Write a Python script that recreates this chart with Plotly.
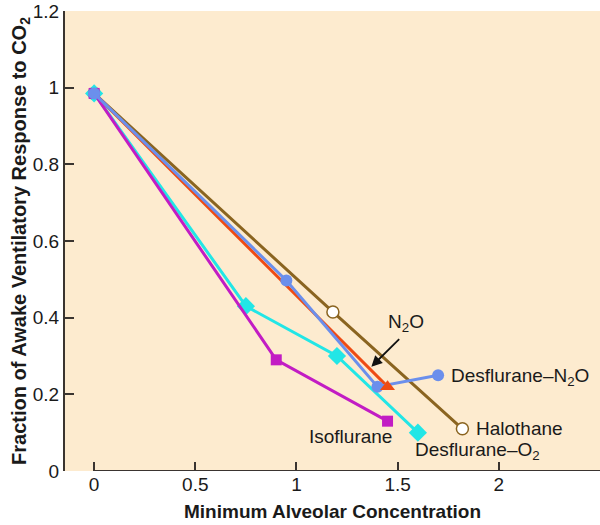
import plotly.graph_objects as go

# Data (Minimum Alveolar Concentration vs fraction of awake ventilatory response)
halothane_x = [0, 1.18, 1.82]
halothane_y = [0.985, 0.415, 0.11]

n2o_x = [0, 1.45]
n2o_y = [0.985, 0.22]

desO2_x = [0, 0.75, 1.2, 1.6]
desO2_y = [0.985, 0.43, 0.30, 0.10]

iso_x = [0, 0.9, 1.45]
iso_y = [0.985, 0.29, 0.13]

desN2O_x = [0, 0.95, 1.4, 1.7]
desN2O_y = [0.985, 0.497, 0.22, 0.25]

x_ticks = [0, 0.5, 1, 1.5, 2]
x_tick_labels = ["0", "0.5", "1", "1.5", "2"]
y_ticks = [0, 0.2, 0.4, 0.6, 0.8, 1.0, 1.2]
y_tick_labels = ["0", "0.2", "0.4", "0.6", "0.8", "1", "1.2"]

BROWN = "#8a6420"
RED = "#ee4b14"
CYAN = "#22e6e6"
MAGENTA = "#c21cc4"
BLUE = "#6b8fec"
AXIS = "#3a3430"
FONT = "Liberation Sans, Arial, Helvetica, sans-serif"

fig = go.Figure()

fig.add_trace(go.Scatter(x=halothane_x, y=halothane_y, mode="lines+markers",
                         line=dict(color=BROWN, width=3),
                         marker=dict(symbol="circle", size=12, color="white",
                                     line=dict(color=BROWN, width=1.5)),
                         showlegend=False))
fig.add_trace(go.Scatter(x=n2o_x, y=n2o_y, mode="lines",
                         line=dict(color=RED, width=3), showlegend=False))
fig.add_trace(go.Scatter(x=desO2_x, y=desO2_y, mode="lines+markers",
                         line=dict(color=CYAN, width=3),
                         marker=dict(symbol="diamond", size=14, color=CYAN),
                         showlegend=False))
fig.add_trace(go.Scatter(x=iso_x, y=iso_y, mode="lines+markers",
                         line=dict(color=MAGENTA, width=3),
                         marker=dict(symbol="square", size=11, color=MAGENTA),
                         showlegend=False))
fig.add_trace(go.Scatter(x=desN2O_x, y=desN2O_y, mode="lines+markers",
                         line=dict(color=BLUE, width=3),
                         marker=dict(symbol="circle", size=12, color=BLUE),
                         showlegend=False))
fig.add_trace(go.Scatter(x=n2o_x[-1:], y=n2o_y[-1:], mode="markers",
                         marker=dict(symbol="triangle-up", size=13, color=RED),
                         showlegend=False))

# x axis line starting at x = 0
fig.add_shape(type="line", xref="x", yref="y", x0=0, x1=2.6, y0=0, y1=0,
              line=dict(color=AXIS, width=2))

lab = dict(size=19, color="#1a1a1a", family=FONT)
anns = [
    dict(x=1.755, y=0.245, text="Desflurane–N<sub>2</sub>O", xanchor="left", yanchor="middle"),
    dict(x=1.875, y=0.11, text="Halothane", xanchor="left", yanchor="middle"),
    dict(x=1.265, y=0.09, text="Isoflurane", xanchor="center", yanchor="middle"),
    dict(x=1.575, y=0.052, text="Desflurane–O<sub>2</sub>", xanchor="left", yanchor="middle"),
    dict(x=1.54, y=0.385, text="N<sub>2</sub>O", xanchor="center", yanchor="middle"),
]
for a in anns:
    fig.add_annotation(xref="x", yref="y", showarrow=False, font=lab, **a)

fig.add_annotation(x=1.37, y=0.272, ax=1.515, ay=0.348, xref="x", yref="y",
                   axref="x", ayref="y", text="", showarrow=True,
                   arrowhead=2, arrowsize=1.2, arrowwidth=1.8, arrowcolor="#111111")

fig.update_layout(
    width=600, height=525,
    margin=dict(l=65, r=0, t=11, b=54),
    paper_bgcolor="white",
    plot_bgcolor="#fdebcf",
    font=dict(family=FONT, size=19, color="#1a1a1a"),
    xaxis=dict(range=[-0.144, 2.5], tickvals=x_ticks, ticktext=x_tick_labels,
               ticks="inside", ticklen=9, tickwidth=2, tickcolor=AXIS,
               showline=False, showgrid=False, zeroline=False,
               tickfont=dict(size=19, family=FONT),
               title=dict(text="<b>Minimum Alveolar Concentration</b>",
                          font=dict(size=19, family=FONT), standoff=10)),
    yaxis=dict(range=[0, 1.2], tickvals=y_ticks, ticktext=y_tick_labels,
               ticks="inside", ticklen=9, tickwidth=2, tickcolor=AXIS,
               showline=True, linecolor=AXIS, linewidth=2,
               showgrid=False, zeroline=False,
               tickfont=dict(size=19, family=FONT),
               title=dict(text="<b>Fraction of Awake Ventilatory Response to CO<sub>2</sub></b>",
                          font=dict(size=20, family=FONT), standoff=0)),
)

fig.write_html("out.html",
               config={"displayModeBar": False},
               post_script="document.body.style.margin='0';document.body.style.overflow='hidden';")
